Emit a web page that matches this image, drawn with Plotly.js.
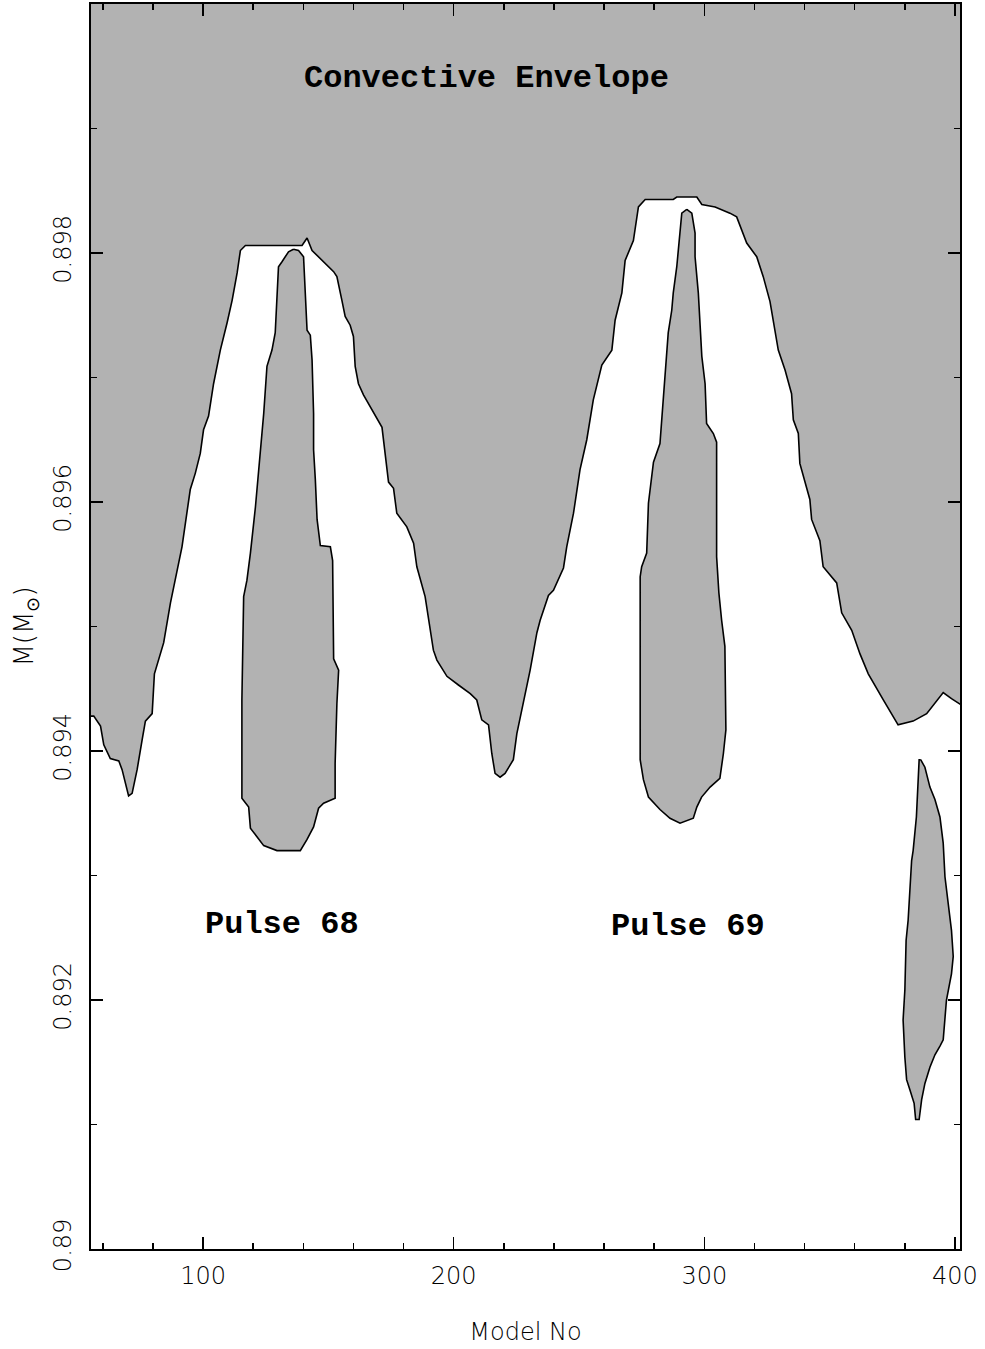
<!DOCTYPE html>
<html>
<head>
<meta charset="utf-8">
<script src="https://cdn.plot.ly/plotly-3.0.1.min.js"></script>
<style>html,body{margin:0;padding:0;background:#fff;}</style>
</head>
<body>
<div id="chart" style="width:985px;height:1349px;"></div>
<script>
// ---- data (Model No, M in solar masses) ----
const envX = [55, 56.4, 59.1, 60.4, 63.0, 66.4, 67.7, 70.3, 71.7, 73.7, 75.7, 77.0, 79.7, 80.6, 84.3, 87.0, 91.6, 94.9, 96.9, 98.9, 100.2, 102.2, 104.2, 106.9, 109.6, 111.6, 113.6, 114.9, 116.9, 139.5, 141.5, 143.5, 152.1, 153.4, 155.4, 156.7, 158.7, 160.0, 160.7, 162.0, 164.0, 168.7, 171.4, 174.0, 176.0, 177.3, 181.3, 184.0, 185.3, 188.6, 190.0, 191.9, 193.3, 197.3, 201.9, 206.6, 209.2, 211.2, 213.9, 215.2, 216.5, 218.5, 220.5, 223.8, 225.2, 227.8, 230.5, 233.2, 234.5, 237.8, 239.8, 243.8, 245.1, 247.8, 250.4, 253.1, 255.7, 259.1, 263.1, 264.4, 267.1, 268.4, 271.7, 273.7, 276.4, 287.6, 289.0, 297.0, 299.0, 304.3, 310.2, 312.9, 316.9, 320.9, 323.5, 326.2, 329.5, 332.2, 334.8, 335.5, 337.5, 338.1, 342.1, 342.8, 346.1, 347.4, 352.8, 354.8, 358.8, 362.1, 365.4, 371.4, 377.3, 383.3, 388.7, 395.3, 398.6, 402.5];
const envY = [0.89428, 0.89428, 0.89420, 0.89405, 0.89394, 0.89392, 0.89385, 0.89364, 0.89366, 0.89385, 0.89409, 0.89424, 0.89430, 0.89462, 0.89487, 0.89519, 0.89564, 0.89610, 0.89623, 0.89639, 0.89658, 0.89669, 0.89695, 0.89722, 0.89744, 0.89762, 0.89784, 0.89802, 0.89806, 0.89806, 0.89812, 0.89802, 0.89785, 0.89781, 0.89762, 0.89749, 0.89742, 0.89733, 0.89709, 0.89695, 0.89686, 0.89669, 0.89660, 0.89616, 0.89611, 0.89591, 0.89580, 0.89567, 0.89548, 0.89524, 0.89505, 0.89481, 0.89473, 0.89460, 0.89453, 0.89446, 0.89441, 0.89425, 0.89421, 0.89398, 0.89382, 0.89379, 0.89382, 0.89393, 0.89414, 0.89438, 0.89465, 0.89495, 0.89505, 0.89525, 0.89529, 0.89547, 0.89564, 0.89591, 0.89626, 0.89650, 0.89682, 0.89710, 0.89722, 0.89746, 0.89768, 0.89794, 0.89810, 0.89837, 0.89843, 0.89843, 0.89845, 0.89845, 0.89839, 0.89837, 0.89832, 0.89829, 0.89808, 0.89797, 0.89781, 0.89761, 0.89722, 0.89706, 0.89687, 0.89666, 0.89655, 0.89631, 0.89602, 0.89586, 0.89569, 0.89548, 0.89535, 0.89511, 0.89497, 0.89478, 0.89462, 0.89441, 0.89421, 0.89424, 0.89430, 0.89447, 0.89442, 0.89437];

const pulse68X = [136.1, 138.1, 140.1, 140.8, 141.5, 142.8, 143.5, 144.1, 144.1, 144.8, 145.5, 146.8, 150.8, 151.7, 152.1, 154.1, 153.4, 152.7, 152.7, 148.1, 146.1, 144.1, 141.5, 138.8, 129.5, 124.2, 120.2, 118.9, 118.2, 115.5, 115.5, 116.2, 117.5, 118.9, 120.9, 122.8, 124.2, 125.5, 127.5, 128.8, 129.5, 130.1, 131.5, 134.1, 136.1];
const pulse68Y = [0.89803, 0.89802, 0.89797, 0.89770, 0.89738, 0.89734, 0.89714, 0.89671, 0.89642, 0.89618, 0.89586, 0.89565, 0.89564, 0.89553, 0.89474, 0.89465, 0.89438, 0.89390, 0.89362, 0.89358, 0.89354, 0.89339, 0.89329, 0.89320, 0.89320, 0.89324, 0.89334, 0.89338, 0.89355, 0.89362, 0.89441, 0.89524, 0.89537, 0.89559, 0.89596, 0.89639, 0.89671, 0.89709, 0.89722, 0.89736, 0.89762, 0.89789, 0.89793, 0.89801, 0.89803];

const pulse69X = [293.0, 295.0, 296.3, 296.3, 297.6, 298.3, 299.0, 300.3, 300.9, 303.6, 304.9, 304.9, 305.8, 306.9, 308.2, 308.6, 307.6, 306.2, 302.3, 298.9, 297.0, 295.6, 290.3, 286.3, 282.3, 277.7, 275.7, 274.4, 274.4, 275.0, 277.0, 277.7, 279.7, 282.3, 283.0, 284.3, 285.6, 287.0, 287.6, 289.0, 290.3, 291.0, 293.0];
const pulse69Y = [0.89835, 0.89832, 0.89816, 0.89797, 0.89768, 0.89736, 0.89717, 0.89695, 0.89663, 0.89655, 0.89648, 0.89556, 0.89527, 0.89505, 0.89484, 0.89417, 0.89398, 0.89378, 0.89371, 0.89363, 0.89355, 0.89346, 0.89342, 0.89346, 0.89353, 0.89363, 0.89377, 0.89393, 0.89540, 0.89548, 0.89559, 0.89599, 0.89632, 0.89647, 0.89666, 0.89695, 0.89736, 0.89754, 0.89768, 0.89789, 0.89816, 0.89832, 0.89835];

const pulse70X = [386.3, 388.0, 390.0, 392.0, 394.0, 395.3, 396.0, 397.3, 398.6, 399.3, 398.6, 396.6, 396.0, 395.3, 394.0, 392.0, 390.0, 388.0, 386.7, 385.7, 384.3, 383.7, 382.0, 380.7, 380.0, 379.3, 380.0, 380.5, 381.3, 382.0, 382.7, 383.3, 384.6, 385.7, 386.3];
const pulse70Y = [0.89393, 0.89387, 0.89371, 0.89361, 0.89347, 0.89326, 0.89299, 0.89275, 0.89256, 0.89235, 0.89221, 0.89200, 0.89181, 0.89168, 0.89163, 0.89156, 0.89146, 0.89133, 0.89120, 0.89104, 0.89104, 0.89117, 0.89128, 0.89136, 0.89154, 0.89184, 0.89208, 0.89248, 0.89264, 0.89288, 0.89312, 0.89320, 0.89347, 0.89393, 0.89393];

const xRange = [55.3, 402];
const yRange = [0.89, 0.9];
const xTickVals = [100, 200, 300, 400];
const yTickVals = [0.89, 0.892, 0.894, 0.896, 0.898];
const yTickText = ['0.89', '0.892', '0.894', '0.896', '0.898'];
const labels = ['Convective Envelope', 'Pulse 68', 'Pulse 69'];
const labelX = [213, 131.5, 293.3];
const labelY = [0.8994, 0.89261, 0.89259];

// ---- drawing ----
const GRAY = '#b2b2b2';
const EDGE = {color: '#000', width: 1.6};

// envelope fill polygon: boundary plus the top corners of the frame
const envFillX = envX.concat([envX[envX.length - 1], envX[0], envX[0]]);
const envFillY = envY.concat([yRange[1] + 0.001, yRange[1] + 0.001, envY[0]]);

const traces = [
  {x: envFillX, y: envFillY, mode: 'lines', fill: 'toself', fillcolor: GRAY,
   line: {width: 0, color: GRAY}, hoverinfo: 'skip'},
  {x: envX, y: envY, mode: 'lines', line: EDGE, hoverinfo: 'skip'},
  {x: pulse68X, y: pulse68Y, mode: 'lines', fill: 'toself', fillcolor: GRAY, line: EDGE},
  {x: pulse69X, y: pulse69Y, mode: 'lines', fill: 'toself', fillcolor: GRAY, line: EDGE},
  {x: pulse70X, y: pulse70Y, mode: 'lines', fill: 'toself', fillcolor: GRAY, line: EDGE}
];

const tickFont = {family: 'DejaVu Sans', size: 24, weight: 200, color: '#000'};
const yTitleFont = {family: 'DejaVu Sans', size: 26, weight: 200, color: '#000'};
const annFont = {family: 'Liberation Mono, Courier New, monospace', size: 32, weight: 'bold', color: '#000'};

const axisCommon = {
  showline: true, linecolor: '#000', linewidth: 2, mirror: 'ticks',
  ticks: 'inside', ticklen: 12, tickwidth: 1.5, tickcolor: '#000',
  showgrid: false, zeroline: false, tickfont: tickFont, fixedrange: true
};

const layout = {
  width: 985, height: 1349,
  margin: {l: 91, r: 25, t: 4, b: 100, pad: 0},
  paper_bgcolor: '#fff', plot_bgcolor: '#fff',
  showlegend: false,
  xaxis: Object.assign({}, axisCommon, {
    range: xRange, tickmode: 'array', tickvals: xTickVals,
    ticklabelstandoff: 4,
    minor: {tickmode: 'linear', tick0: 0, dtick: 20, ticks: 'inside', ticklen: 6, tickwidth: 1.5, tickcolor: '#000'},
    title: {text: 'Model No', font: tickFont, standoff: 34}
  }),
  yaxis: Object.assign({}, axisCommon, {
    range: yRange, tickmode: 'array', tickvals: yTickVals, ticktext: yTickText,
    tickangle: -90, ticklabelstandoff: 8,
    minor: {tickmode: 'linear', tick0: 0.89, dtick: 0.001, ticks: 'inside', ticklen: 6, tickwidth: 1.5, tickcolor: '#000'},
    title: {text: 'M(M<sub>⊙</sub>)', font: yTitleFont, standoff: 8}
  }),
  annotations: labels.map((t, i) => ({
    x: labelX[i], y: labelY[i], xref: 'x', yref: 'y', text: t,
    showarrow: false, font: annFont, xanchor: 'center', yanchor: 'middle'
  }))
};

Plotly.newPlot('chart', traces, layout, {staticPlot: true, displayModeBar: false});
</script>
</body>
</html>
